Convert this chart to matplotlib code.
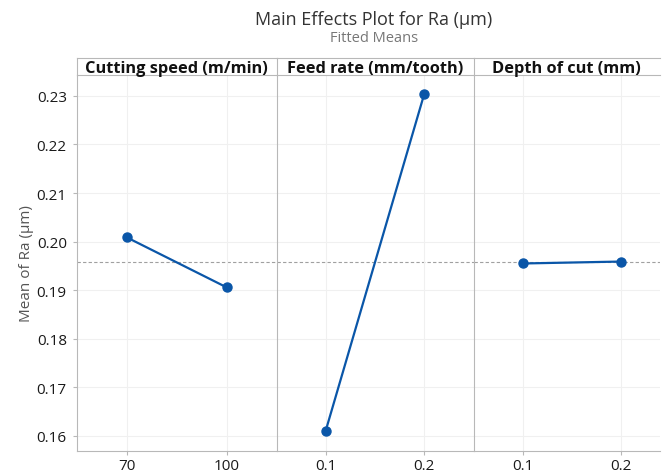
import matplotlib.pyplot as plt

plt.rcParams['font.family'] = ['Open Sans', 'DejaVu Sans']

# data
factors = ["Cutting speed (m/min)", "Feed rate (mm/tooth)", "Depth of cut (mm)"]
levels = [["70", "100"], ["0.1", "0.2"], ["0.1", "0.2"]]
means = [[0.2009, 0.1906], [0.1611, 0.2304], [0.1955, 0.1959]]
grand_mean = 0.19575
yticks = [0.16, 0.17, 0.18, 0.19, 0.20, 0.21, 0.22, 0.23]

W, H = 666, 477
fig = plt.figure(figsize=(W / 100, H / 100), dpi=100)

blue = "#0a56a8"
spine = "#b8b8b8"
grid = "#f0f0f0"

# panel edges in pixels
edges = [(76.5, 276.5), (276.5, 473.5), (473.5, 660)]
xlims = [(-0.5, 1.5), (-0.5, 1.5), (-0.5, 1.5 - (670.5 - 660) / 99)]
top, bot = 76, 452
head = 59

for i, (x0, x1) in enumerate(edges):
    ax = fig.add_axes([x0 / W, 1 - bot / H, (x1 - x0) / W, (bot - top) / H])
    ax.plot([0, 1], means[i], color=blue, lw=1.6, marker="o", ms=6.5, zorder=3)
    ax.axhline(grand_mean, color="#a0a0a0", lw=0.8, ls=(0, (3, 2)), zorder=1)
    ax.set_xlim(*xlims[i])
    ax.set_ylim(0.1569, 0.2343)
    ax.set_xticks([0, 1])
    ax.set_xticklabels(levels[i], fontsize=11, color="#1a1a1a")
    ax.set_yticks(yticks)
    ax.grid(True, color=grid, lw=0.8, zorder=0)
    for s in ["top", "right"]:
        ax.spines[s].set_visible(False)
    ax.spines["bottom"].set_color(spine)
    ax.spines["left"].set_color(spine)
    ax.tick_params(axis="x", length=3, color=spine, pad=2)
    if i == 0:
        ax.set_yticklabels([f"{v:.2f}" for v in yticks], fontsize=11, color="#1a1a1a")
        ax.tick_params(axis="y", length=3, color=spine, pad=4)
        ax.set_ylabel("Mean of Ra (µm)", fontsize=11, color="#555555", labelpad=2)
    else:
        ax.tick_params(axis="y", left=False, labelleft=False)

    # header strip
    hx = fig.add_axes([x0 / W, 1 - top / H, (x1 - x0) / W, (top - head) / H])
    hx.set_xticks([])
    hx.set_yticks([])
    hx.set_facecolor("white")
    hx.spines["right"].set_visible(False)
    for s in ["top", "bottom", "left"]:
        hx.spines[s].set_color(spine)
    hx.text(0.5, 0.42, factors[i], ha="center", va="center", fontsize=11.8,
            fontweight="bold", color="#111111", transform=hx.transAxes)

fig.text(374 / W, 1 - 20 / H, "Main Effects Plot for Ra (µm)", ha="center", va="center",
         fontsize=13, color="#333333")
fig.text(374 / W, 1 - 38 / H, "Fitted Means", ha="center", va="center",
         fontsize=10.5, color="#777777")

fig.savefig("out.png", dpi=100)
